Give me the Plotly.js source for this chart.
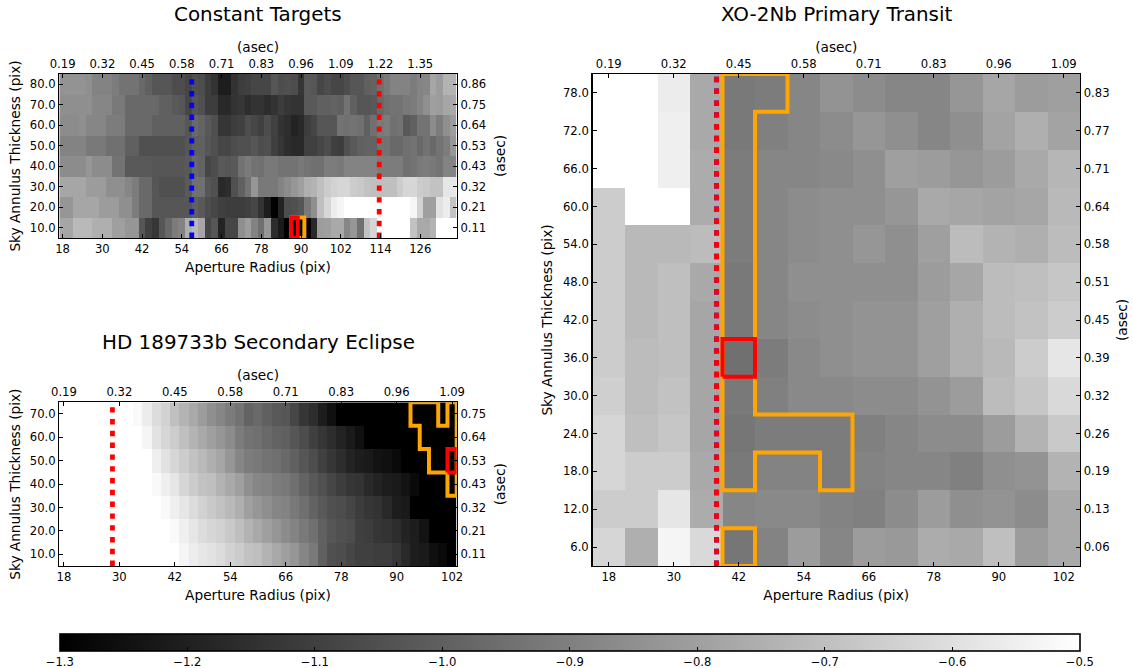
<!DOCTYPE html>
<html>
<head>
<meta charset="utf-8">
<script src="https://cdn.plot.ly/plotly-3.0.1.min.js"></script>
<style>html,body{margin:0;padding:0;background:#fff}#c{width:1133px;height:668px}</style>
</head>
<body>
<div id="c"></div>
<script>
// ---- Constant Targets ----
const constAperture = [18,20,22,24,26,28,30,32,34,36,38,40,42,44,46,48,50,52,54,56,58,60,62,64,66,68,70,72,74,76,78,80,82,84,86,88,90,92,94,96,98,100,102,104,106,108,110,112,114,116,118,120,122,124,126,128,130,132,134,136];
const constThickness = [10,20,30,40,50,60,70,80];
const constRow10 = [-0.78,-0.78,-0.72,-0.72,-0.72,-0.75,-0.75,-0.75,-0.80,-0.80, -0.83,-0.83,-1.03,-1.10,-1.13,-1.03,-0.97,-0.91,-0.89,-0.75, -0.72,-0.78,-1.08,-1.03,-1.19,-1.08,-1.08,-0.85,-0.81,-0.89, -0.95,-0.83,-1.16,-1.22,-1.30,-1.30,-1.30,-1.30,-1.17,-0.81, -0.80,-0.77,-0.77,-0.88,-0.83,-0.95,-0.69,-0.63,-0.50,-0.50, -0.50,-0.50,-0.50,-0.69,-0.77,-0.77,-0.74,-0.50,-0.50,-0.50];
const constRow20 = [-0.83,-0.83,-0.78,-0.78,-0.78,-0.78,-0.81,-0.81,-0.81,-0.85, -0.85,-0.91,-0.97,-0.97,-1.03,-1.03,-1.03,-1.03,-1.03,-1.03, -1.00,-1.02,-1.06,-1.08,-1.10,-1.11,-1.11,-1.11,-1.10,-1.08, -1.14,-1.21,-1.30,-1.19,-1.06,-1.05,-1.03,-0.92,-0.85,-0.70, -0.63,-0.56,-0.53,-0.50,-0.50,-0.50,-0.50,-0.50,-0.50,-0.50, -0.50,-0.50,-0.50,-0.53,-0.64,-0.80,-0.80,-0.59,-0.56,-0.69];
const constRow30 = [-0.78,-0.78,-0.78,-0.78,-0.81,-0.81,-0.81,-0.85,-0.85,-0.85, -0.88,-0.91,-0.97,-0.97,-1.03,-1.05,-1.05,-1.05,-1.05,-1.02, -0.95,-0.95,-1.03,-1.05,-1.17,-1.16,-1.05,-1.00,-0.94,-0.83, -0.92,-0.92,-0.92,-0.89,-0.86,-0.83,-0.80,-0.75,-0.74,-0.70, -0.66,-0.64,-0.63,-0.63,-0.66,-0.67,-0.69,-0.70,-0.70,-0.70, -0.70,-0.66,-0.63,-0.63,-0.66,-0.67,-0.69,-0.69,-0.58,-0.58];
const constRow40 = [-0.86,-0.86,-0.86,-0.86,-0.83,-0.86,-0.86,-0.86,-0.94,-0.94, -1.02,-1.02,-1.02,-1.02,-1.03,-1.03,-1.03,-1.03,-1.03,-1.02, -0.97,-0.99,-1.08,-1.06,-1.02,-1.03,-1.02,-0.94,-0.91,-0.94, -0.95,-0.92,-0.92,-0.94,-0.94,-0.94,-0.92,-0.94,-0.95,-0.95, -0.91,-0.91,-0.92,-0.89,-0.89,-0.89,-0.89,-0.89,-0.91,-0.91, -0.91,-0.91,-0.95,-0.94,-0.92,-0.91,-0.92,-0.94,-0.89,-0.89];
const constRow50 = [-0.89,-0.89,-0.89,-0.89,-0.92,-0.92,-0.92,-0.95,-0.95,-0.95, -1.00,-1.00,-1.05,-1.05,-1.05,-1.05,-1.05,-1.05,-1.05,-1.03, -1.00,-1.00,-1.03,-1.05,-1.08,-1.08,-1.06,-1.05,-1.05,-1.03, -1.06,-1.05,-1.10,-1.13,-1.16,-1.17,-1.17,-1.10,-1.10,-1.08, -1.06,-1.10,-1.11,-1.05,-1.02,-1.00,-0.99,-0.99,-0.94,-0.94, -0.97,-0.97,-0.95,-0.94,-0.97,-0.94,-0.97,-0.94,-0.91,-0.83];
const constRow60 = [-0.86,-0.86,-0.86,-0.85,-0.88,-0.88,-0.88,-0.91,-0.91,-0.91, -0.97,-0.97,-0.97,-0.97,-1.00,-1.00,-1.00,-1.00,-1.00,-1.03, -0.97,-0.99,-1.02,-1.05,-1.13,-1.13,-1.11,-1.10,-1.06,-1.08, -1.10,-1.06,-1.10,-1.14,-1.16,-1.19,-1.17,-1.11,-1.08,-1.03, -1.03,-1.03,-0.94,-0.95,-0.94,-0.95,-1.00,-0.95,-0.92,-0.91, -0.95,-0.94,-1.02,-1.00,-0.94,-0.94,-0.86,-0.91,-0.85,-0.81];
const constRow70 = [-0.85,-0.85,-0.85,-0.85,-0.85,-0.88,-0.88,-0.88,-0.92,-0.92, -0.97,-0.97,-0.97,-0.97,-0.97,-1.00,-1.00,-1.02,-1.03,-1.08, -1.03,-1.05,-1.11,-1.11,-1.17,-1.17,-1.14,-1.13,-1.16,-1.14, -1.14,-1.16,-1.14,-1.11,-1.13,-1.14,-1.14,-1.02,-1.02,-1.00, -1.00,-0.99,-1.00,-0.94,-1.00,-1.03,-1.03,-1.02,-0.97,-0.95, -0.94,-0.94,-0.92,-0.91,-0.89,-0.85,-0.80,-0.81,-0.78,-0.77];
const constRow80 = [-0.84,-0.84,-0.84,-0.84,-0.85,-0.89,-0.89,-0.89,-0.91,-0.94, -0.94,-0.94,-0.97,-1.00,-1.03,-1.03,-1.03,-1.06,-1.06,-1.08, -1.05,-1.06,-1.11,-1.14,-1.21,-1.21,-1.14,-1.11,-1.10,-1.08, -1.08,-1.08,-1.03,-1.06,-1.05,-1.06,-1.13,-1.02,-1.03,-1.08, -1.06,-1.08,-1.08,-1.06,-1.03,-1.03,-1.00,-0.99,-0.95,-0.92, -0.89,-0.89,-0.89,-0.91,-0.89,-0.88,-0.78,-0.81,-0.74,-0.74];

// ---- HD 189733b Secondary Eclipse ----
const hdAperture = [18,20,22,24,26,28,30,32,34,36,38,40,42,44,46,48,50,52,54,56,58,60,62,64,66,68,70,72,74,76,78,80,82,84,86,88,90,92,94,96,98,100,102];
const hdThickness = [10,20,30,40,50,60,70];
const hdRow10 = [-0.5,-0.5,-0.5,-0.5,-0.5,-0.5,-0.5,-0.5,-0.5,-0.5, -0.5,-0.5,-0.5,-0.53,-0.56,-0.58,-0.59,-0.61,-0.64,-0.66, -0.69,-0.70,-0.74,-0.77,-0.80,-0.83,-0.88,-0.92,-1.00,-1.05, -1.06,-1.08,-1.10,-1.10,-1.11,-1.11,-1.13,-1.17,-1.21,-1.22, -1.25,-1.27,-1.30];
const hdRow20 = [-0.5,-0.5,-0.5,-0.5,-0.5,-0.5,-0.5,-0.5,-0.5,-0.5, -0.5,-0.5,-0.52,-0.55,-0.58,-0.61,-0.63,-0.64,-0.67,-0.70, -0.74,-0.77,-0.80,-0.83,-0.86,-0.89,-0.92,-0.95,-1.00,-1.03, -1.05,-1.06,-1.10,-1.11,-1.13,-1.14,-1.16,-1.19,-1.21,-1.24, -1.30,-1.30,-1.30];
const hdRow30 = [-0.5,-0.5,-0.5,-0.5,-0.5,-0.5,-0.5,-0.5,-0.5,-0.5, -0.5,-0.52,-0.55,-0.58,-0.61,-0.64,-0.67,-0.69,-0.72,-0.75, -0.80,-0.83,-0.85,-0.88,-0.89,-0.92,-0.95,-0.99,-1.02,-1.05, -1.06,-1.08,-1.11,-1.13,-1.14,-1.17,-1.21,-1.22,-1.30,-1.30, -1.30,-1.30,-1.30];
const hdRow40 = [-0.5,-0.5,-0.5,-0.5,-0.5,-0.5,-0.5,-0.5,-0.5,-0.5, -0.52,-0.55,-0.58,-0.63,-0.66,-0.69,-0.70,-0.74,-0.77,-0.80, -0.85,-0.88,-0.89,-0.91,-0.92,-0.95,-0.99,-1.02,-1.05,-1.08, -1.11,-1.13,-1.14,-1.17,-1.19,-1.21,-1.22,-1.24,-1.27,-1.30, -1.30,-1.30,-1.30];
const hdRow50 = [-0.5,-0.5,-0.5,-0.5,-0.5,-0.5,-0.5,-0.5,-0.5,-0.5, -0.55,-0.59,-0.63,-0.66,-0.69,-0.72,-0.75,-0.78,-0.83,-0.88, -0.91,-0.92,-0.94,-0.95,-0.97,-1.00,-1.03,-1.06,-1.10,-1.13, -1.16,-1.19,-1.21,-1.22,-1.24,-1.25,-1.27,-1.30,-1.30,-1.30, -1.30,-1.30,-1.30];
const hdRow60 = [-0.5,-0.5,-0.5,-0.5,-0.5,-0.5,-0.5,-0.5,-0.5,-0.53, -0.59,-0.63,-0.66,-0.70,-0.74,-0.77,-0.80,-0.83,-0.86,-0.91, -0.94,-0.95,-0.97,-0.99,-1.00,-1.03,-1.06,-1.10,-1.13,-1.16, -1.19,-1.22,-1.25,-1.30,-1.30,-1.30,-1.30,-1.30,-1.30,-1.30, -1.30,-1.30,-1.30];
const hdRow70 = [-0.5,-0.5,-0.5,-0.5,-0.5,-0.5,-0.5,-0.5,-0.52,-0.56, -0.61,-0.64,-0.70,-0.74,-0.77,-0.81,-0.85,-0.88,-0.91,-0.94, -0.99,-0.97,-1.00,-1.02,-1.03,-1.08,-1.13,-1.16,-1.21,-1.25, -1.30,-1.30,-1.30,-1.30,-1.30,-1.30,-1.30,-1.30,-1.30,-1.30, -1.30,-1.30,-1.30];

// ---- XO-2Nb Primary Transit ----
const xoAperture = [18,24,30,36,42,48,54,60,66,72,78,84,90,96,102];
const xoThickness = [6,12,18,24,30,36,42,48,54,60,66,72,78];
const xoRow6  = [-0.63,-0.75,-0.53,-0.62,-0.93,-0.89,-0.81,-0.88,-0.81,-0.82,-0.76,-0.77,-0.70,-0.81,-0.77];
const xoRow12 = [-0.66,-0.66,-0.58,-0.76,-0.88,-0.87,-0.87,-0.89,-0.90,-0.86,-0.81,-0.85,-0.84,-0.86,-0.77];
const xoRow18 = [-0.63,-0.66,-0.66,-0.77,-0.92,-0.89,-0.89,-0.91,-0.89,-0.88,-0.88,-0.90,-0.85,-0.84,-0.74];
const xoRow24 = [-0.63,-0.70,-0.68,-0.78,-0.93,-0.91,-0.91,-0.91,-0.90,-0.88,-0.86,-0.86,-0.81,-0.74,-0.67];
const xoRow30 = [-0.65,-0.71,-0.69,-0.78,-0.92,-0.90,-0.87,-0.87,-0.86,-0.86,-0.84,-0.81,-0.71,-0.68,-0.62];
const xoRow36 = [-0.66,-0.71,-0.70,-0.78,-0.95,-0.91,-0.87,-0.85,-0.84,-0.84,-0.80,-0.75,-0.72,-0.66,-0.58];
const xoRow42 = [-0.66,-0.72,-0.70,-0.78,-0.92,-0.88,-0.86,-0.85,-0.84,-0.84,-0.80,-0.75,-0.71,-0.69,-0.66];
const xoRow48 = [-0.66,-0.72,-0.70,-0.77,-0.92,-0.88,-0.85,-0.85,-0.85,-0.85,-0.81,-0.78,-0.71,-0.70,-0.68];
const xoRow54 = [-0.66,-0.72,-0.72,-0.71,-0.91,-0.88,-0.86,-0.85,-0.83,-0.85,-0.80,-0.71,-0.74,-0.75,-0.71];
const xoRow60 = [-0.66,-0.5,-0.5,-0.76,-0.91,-0.88,-0.86,-0.85,-0.85,-0.83,-0.77,-0.78,-0.79,-0.78,-0.72];
const xoRow66 = [-0.5,-0.5,-0.55,-0.76,-0.91,-0.88,-0.88,-0.87,-0.85,-0.80,-0.81,-0.83,-0.81,-0.77,-0.73];
const xoRow72 = [-0.5,-0.5,-0.55,-0.77,-0.92,-0.90,-0.88,-0.86,-0.83,-0.85,-0.88,-0.85,-0.79,-0.75,-0.79];
const xoRow78 = [-0.5,-0.5,-0.56,-0.77,-0.92,-0.91,-0.88,-0.84,-0.86,-0.88,-0.88,-0.83,-0.78,-0.81,-0.80];

// ---- Axis ranges, ticks, tick labels ----
const zLow = -1.3, zHigh = -0.5;
const constXRange = [17,137], constYRange = [5,85];
const hdXRange = [17,103], hdYRange = [5,75];
const xoXRange = [15,105], xoYRange = [3,81];
const constXTicks = [18,30,42,54,66,78,90,102,114,126];
const constXAsec = ['0.19','0.32','0.45','0.58','0.71','0.83','0.96','1.09','1.22','1.35'];
const constYTicks = [10,20,30,40,50,60,70,80];
const constYAsec = ['0.11','0.21','0.32','0.43','0.53','0.64','0.75','0.86'];
const hdXTicks = [18,30,42,54,66,78,90,102];
const hdXAsec = ['0.19','0.32','0.45','0.58','0.71','0.83','0.96','1.09'];
const hdYTicks = [10,20,30,40,50,60,70];
const hdYAsec = ['0.11','0.21','0.32','0.43','0.53','0.64','0.75'];
const xoYTicks = [6,12,18,24,30,36,42,48,54,60,66,72,78];
const xoYAsec = ['0.06','0.13','0.19','0.26','0.32','0.39','0.45','0.51','0.58','0.64','0.71','0.77','0.83'];
const barTicks = [-1.3,-1.2,-1.1,-1.0,-0.9,-0.8,-0.7,-0.6,-0.5];
const barLabels = ['\u22121.3','\u22121.2','\u22121.1','\u22121.0','\u22120.9','\u22120.8','\u22120.7','\u22120.6','\u22120.5'];

// ---- Marked apertures and regions ----
const constBlueLine = 57, constRedLine = 113.6, hdRedLine = 28.5, xoLine = 37.9;
const constOrangeX = [87,91,91,87,87], constOrangeY = [5,5,15,15,5];
const constRedX = [87,89,89,87,87], constRedY = [5,5,15,15,5];
const hdOrangeX = [93,99,99,101,101,103,103,101,101,97,97,95,95,93,93];
const hdOrangeY = [75,75,65,65,75,75,35,35,45,45,55,55,65,65,75];
const hdRedX = [101,103,103,101,101], hdRedY = [45,45,55,55,45];
const xoOrangeX = [39,51,51,45,45,63,63,57,57,45,45,39,39,null,39,45,45,39,39];
const xoOrangeY = [81,81,75,75,27,27,15,15,21,21,15,15,81,null,3,3,9,9,3];
const xoRedX = [39,45,45,39,39], xoRedY = [33,33,39,39,33];

const FONT = 'DejaVu Sans, sans-serif';
const W = 1133, H = 668;
const gray = [[0,'#000000'],[1,'#ffffff']];

function heat(x, y, z, xa, ya, bar) {
  const t = {type:'heatmap', x:x, y:y, z:z, xaxis:xa, yaxis:ya, colorscale:gray, zmin:zLow, zmax:zHigh,
             zsmooth:false, showscale:!!bar, hoverinfo:'skip'};
  if (bar) t.colorbar = {orientation:'h', x:59.8/W, xanchor:'left', xref:'paper', y:1-634/H, yanchor:'top', yref:'paper',
      lenmode:'pixels', len:1020.2, thicknessmode:'pixels', thickness:17, xpad:0, ypad:0,
      outlinewidth:1.6, outlinecolor:'#000', ticks:'inside', ticklen:4, tickwidth:1, tickcolor:'#000',
      tickmode:'array', tickvals:barTicks, ticktext:barLabels, tickfont:{family:FONT,size:11.6,color:'#000'}, ticklabelposition:'outside'};
  return t;
}
function vline(xv, ys, col, xa, ya) {
  return {type:'scatter', mode:'lines', x:[xv,xv], y:ys, xaxis:xa, yaxis:ya, hoverinfo:'skip', showlegend:false,
          line:{color:col, width:4.8, dash:'5.4px,6.4px'}};
}
function box(xs, ys, col, xa, ya) {
  return {type:'scatter', mode:'lines', x:xs, y:ys, xaxis:xa, yaxis:ya, hoverinfo:'skip', showlegend:false,
          line:{color:col, width:4}};
}

const data = [
  heat(constAperture, constThickness, [constRow10,constRow20,constRow30,constRow40,constRow50,constRow60,constRow70,constRow80], 'x', 'y', true),
  box(constOrangeX, constOrangeY, 'orange', 'x2', 'y2'),
  box(constRedX, constRedY, '#ff0000', 'x2', 'y2'),
  vline(constBlueLine, constYRange, '#0000ff', 'x2', 'y2'),
  vline(constRedLine, constYRange, '#ff0000', 'x2', 'y2'),

  heat(hdAperture, hdThickness, [hdRow10,hdRow20,hdRow30,hdRow40,hdRow50,hdRow60,hdRow70], 'x3', 'y3', false),
  box(hdOrangeX, hdOrangeY, 'orange', 'x4', 'y4'),
  box(hdRedX, hdRedY, '#ff0000', 'x4', 'y4'),
  vline(hdRedLine, hdYRange, '#ff0000', 'x4', 'y4'),

  heat(xoAperture, xoThickness, [xoRow6,xoRow12,xoRow18,xoRow24,xoRow30,xoRow36,xoRow42,xoRow48,xoRow54,xoRow60,xoRow66,xoRow72,xoRow78], 'x5', 'y5', false),
  box(xoOrangeX, xoOrangeY, 'orange', 'x6', 'y6'),
  box(xoRedX, xoRedY, '#ff0000', 'x6', 'y6'),
  vline(xoLine, xoYRange, '#0000ff', 'x6', 'y6'),
  vline(xoLine, xoYRange, '#ff0000', 'x6', 'y6')
];

const tickF = {family:FONT, size:11.6, color:'#000'};
const titleF = {family:FONT, size:13.7, color:'#000'};
function ax(extra) {
  return Object.assign({showgrid:false, zeroline:false, showline:true, linecolor:'#000', linewidth:1.4, mirror:false,
    ticks:'inside', ticklen:4, tickwidth:1, tickcolor:'#000', tickfont:tickF, tickmode:'array', fixedrange:true, layer:'above traces'}, extra);
}
function panel(n, x0, x1, top, bottom, xr, yr, xt, xAsec, yt, yAsec, yLab, leftPad, rightPad) {
  const xd = [x0/W, x1/W], yd = [1-bottom/H, 1-top/H];
  const k = n*2-1, k2 = n*2;
  const s = i => i===1 ? '' : String(i);
  const o = {};
  o['xaxis'+s(k)] = ax({domain:xd, range:xr, anchor:'y'+s(k), side:'bottom', tickvals:xt, ticktext:xt.map(String),
     title:{text:'Aperture Radius (pix)', font:titleF, standoff:7}});
  o['yaxis'+s(k)] = ax({domain:yd, range:yr, anchor:'x'+s(k), side:'left', tickvals:yt, ticktext:yLab,
     title:{text:'Sky Annulus Thickness (pix)', font:titleF, standoff:leftPad}});
  o['xaxis'+s(k2)] = ax({domain:xd, range:xr, anchor:'y'+s(k2), overlaying:'x'+s(k), side:'top', tickvals:xt, ticktext:xAsec,
     title:{text:'(asec)', font:titleF, standoff:1}});
  o['yaxis'+s(k2)] = ax({domain:yd, range:yr, anchor:'x'+s(k2), overlaying:'y'+s(k), side:'right', tickvals:yt, ticktext:yAsec,
     title:{text:'(asec)', font:titleF, standoff:rightPad}});
  return o;
}
const fmt = a => a.map(v => v.toFixed(1));
const layout = Object.assign({
  width:W, height:H, autosize:false, paper_bgcolor:'#fff', plot_bgcolor:'#fff', showlegend:false,
  margin:{l:0,r:0,t:0,b:0,pad:0,autoexpand:false}, font:{family:FONT,color:'#000'},
  annotations:[
    {text:'Constant Targets', xref:'paper', yref:'paper', x:258/W, y:1-14/H, xanchor:'center', yanchor:'middle', showarrow:false, font:{family:FONT,size:19.9,color:'#000'}},
    {text:'HD 189733b Secondary Eclipse', xref:'paper', yref:'paper', x:258/W, y:1-342/H, xanchor:'center', yanchor:'middle', showarrow:false, font:{family:FONT,size:19.9,color:'#000'}},
    {text:'XO-2Nb Primary Transit', xref:'paper', yref:'paper', x:836/W, y:1-14/H, xanchor:'center', yanchor:'middle', showarrow:false, font:{family:FONT,size:19.9,color:'#000'}}
  ]},
  panel(1, 59.3, 456.7, 74, 238, constXRange, constYRange, constXTicks, constXAsec, constYTicks, constYAsec, fmt(constYTicks), 6, 10),
  panel(2, 59.3, 456.7, 402.3, 566, hdXRange, hdYRange, hdXTicks, hdXAsec, hdYTicks, hdYAsec, fmt(hdYTicks), 6, 10),
  panel(3, 592.5, 1080, 74, 566, xoXRange, xoYRange, hdXTicks, hdXAsec, xoYTicks, xoYAsec, fmt(xoYTicks), 7, 9)
);
Plotly.newPlot('c', data, layout, {displayModeBar:false, staticPlot:true});
</script>
</body>
</html>
